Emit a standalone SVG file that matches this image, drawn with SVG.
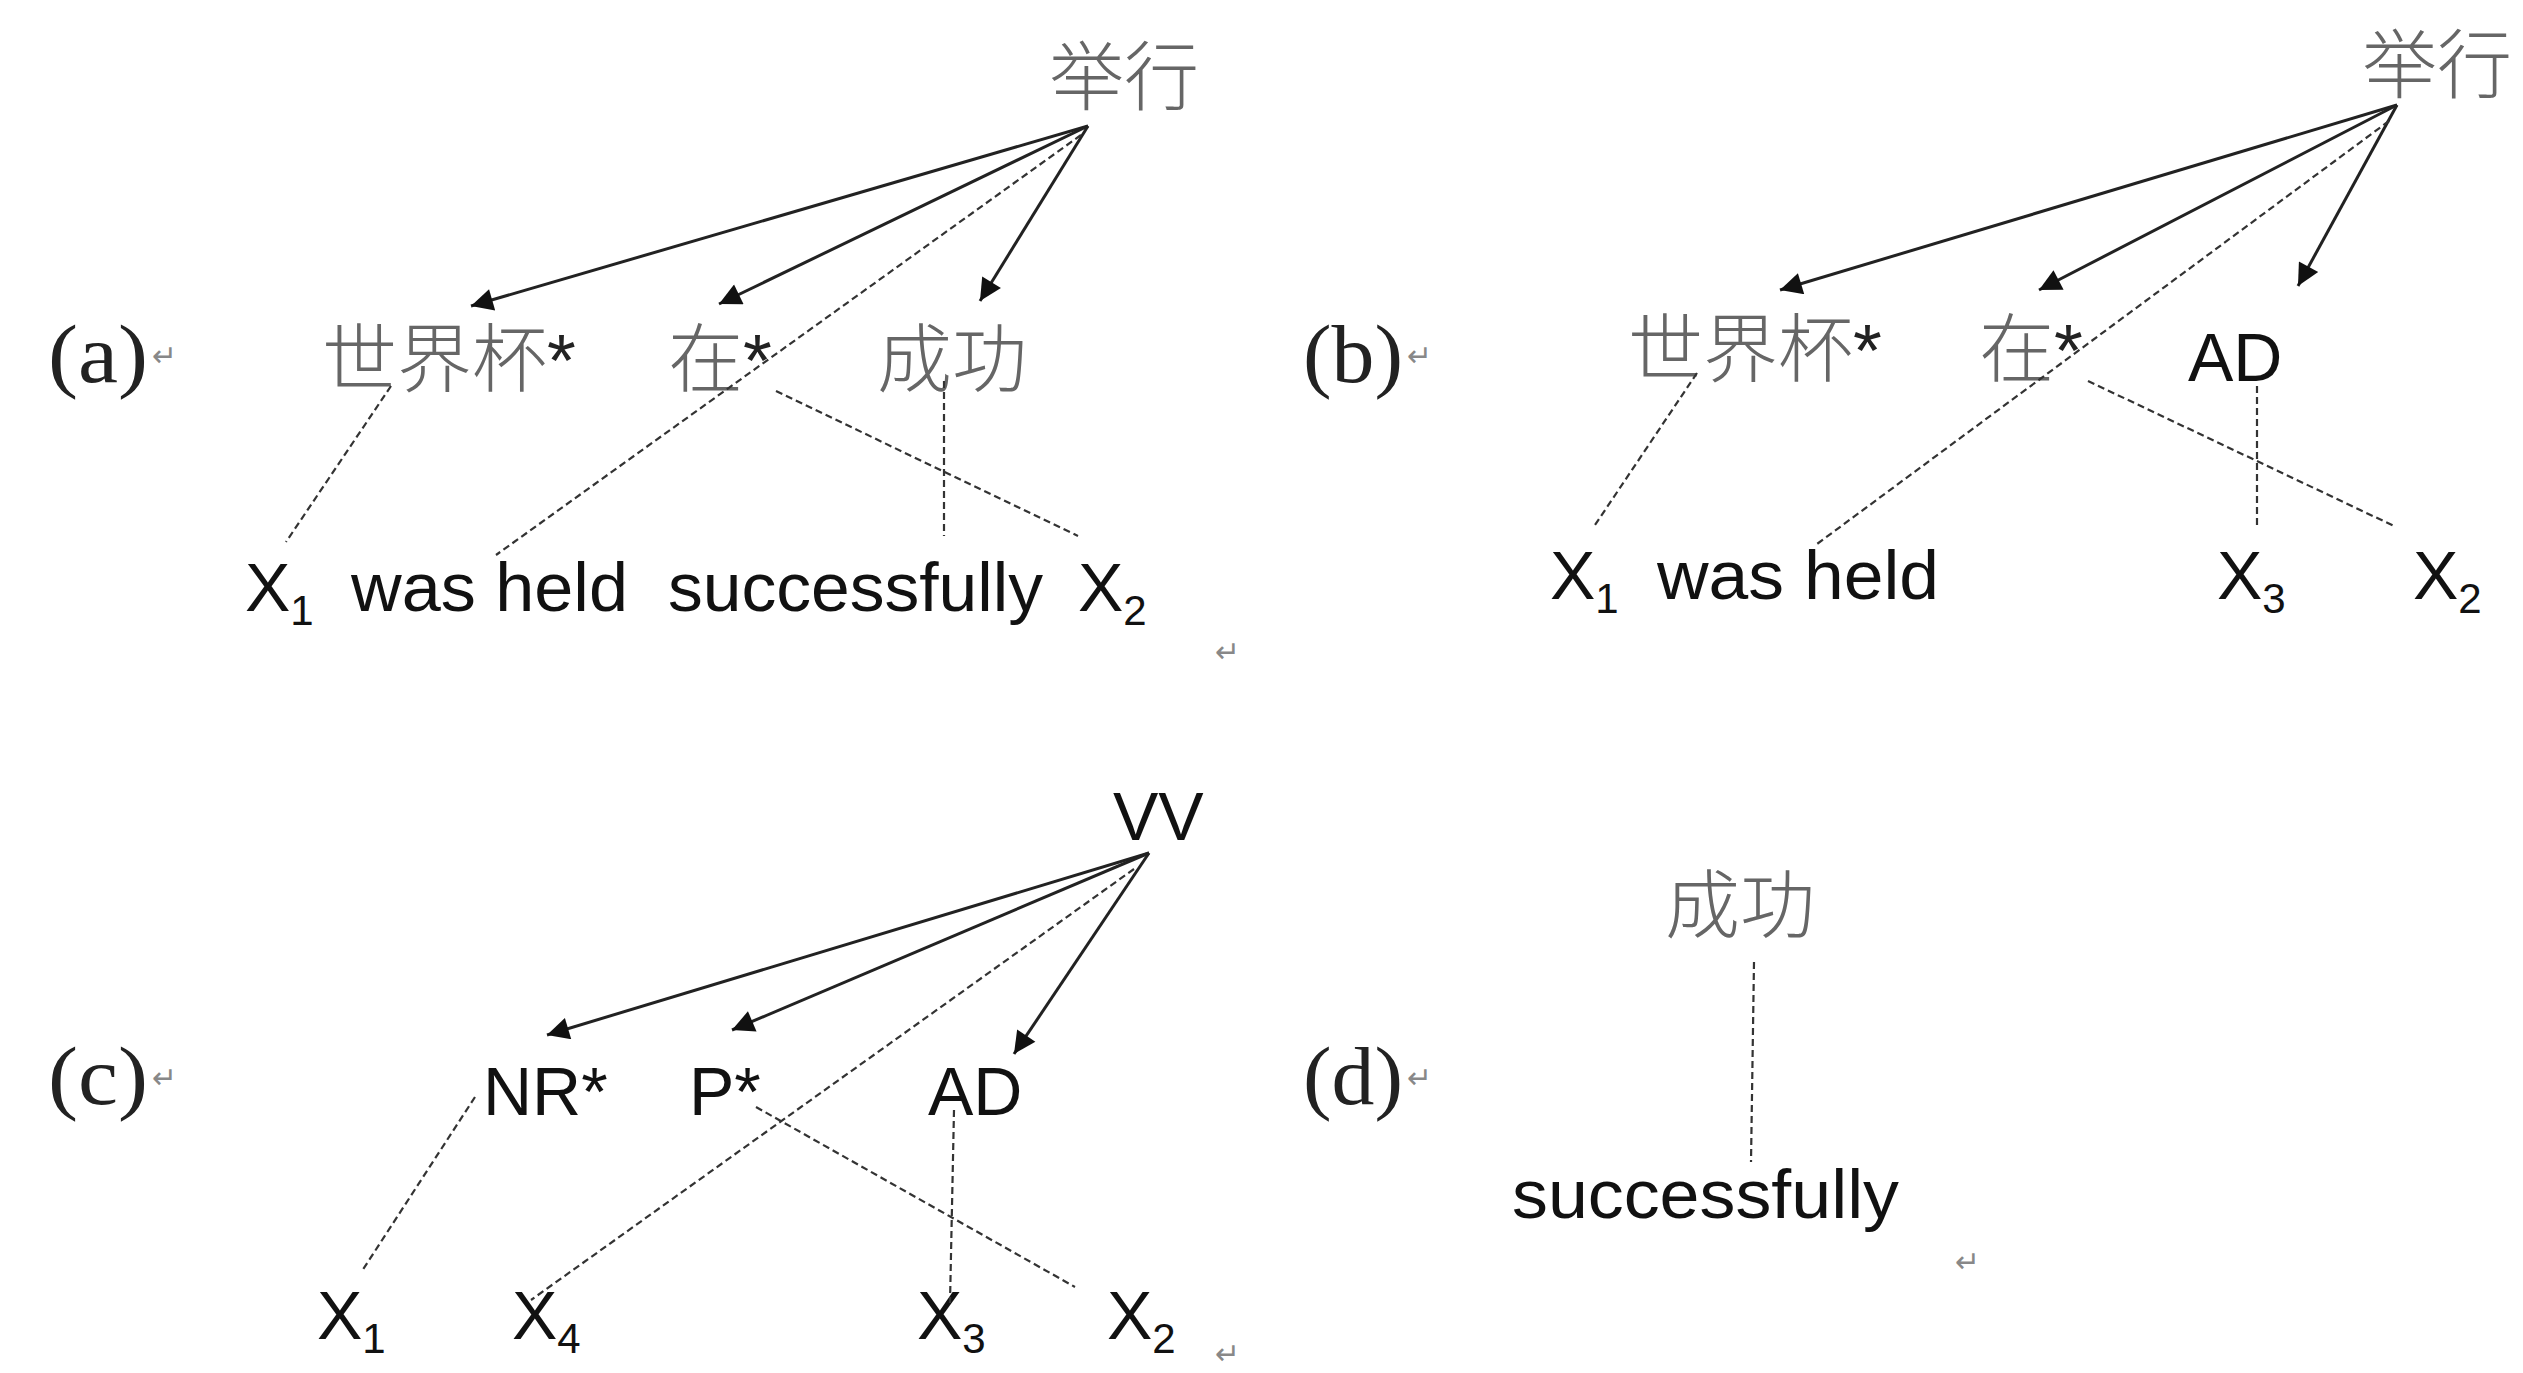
<svg xmlns="http://www.w3.org/2000/svg" width="2523" height="1373" viewBox="0 0 2523 1373">
<defs>
<marker id="ah" viewBox="0 0 10 10" refX="10" refY="5" markerWidth="28" markerHeight="22" markerUnits="userSpaceOnUse" orient="auto">
<path d="M0,0 L10,5 L0,10 z" fill="#111"/>
</marker>
</defs>
<style>
.lbl{font-family:"Liberation Serif","Times New Roman",serif;font-size:82px;fill:#222}
.ret{font-family:"DejaVu Sans",sans-serif;font-size:30px;fill:#888}
.cjk{font-family:"Noto Sans CJK SC","Noto Sans",sans-serif;font-size:75px;fill:#666;font-weight:300}
.st{font-family:"Liberation Sans",Arial,sans-serif;fill:#222}
.en{font-family:"Liberation Sans",Arial,sans-serif;font-size:68px;fill:#111}
.sub{font-size:42px}
.arr{stroke:#222;stroke-width:3;fill:none;marker-end:url(#ah)}
.dsh{stroke:#333;stroke-width:2.2;fill:none;stroke-dasharray:7 4}
</style>
<rect width="2523" height="1373" fill="#fff"/>

<g id="panel-labels">
<text class="lbl" x="48" y="382" textLength="100" lengthAdjust="spacingAndGlyphs">(a)</text><text class="ret" x="152" y="366">↵</text>
<text class="lbl" x="1303" y="382" textLength="100" lengthAdjust="spacingAndGlyphs">(b)</text><text class="ret" x="1407" y="366">↵</text>
<text class="lbl" x="48" y="1104" textLength="100" lengthAdjust="spacingAndGlyphs">(c)</text><text class="ret" x="152" y="1088">↵</text>
<text class="lbl" x="1303" y="1104" textLength="100" lengthAdjust="spacingAndGlyphs">(d)</text><text class="ret" x="1407" y="1088">↵</text>
<text class="ret" x="1215" y="662">↵</text>
<text class="ret" x="1215" y="1364">↵</text>
<text class="ret" x="1955" y="1272">↵</text>
</g>

<!-- Panel (a) -->
<g id="a-root"><text class="cjk" x="1049" y="104">举行</text></g>
<g id="a-shijiebei"><text class="cjk" x="322" y="386">世界杯<tspan class="st" font-size="74">*</tspan></text></g>
<g id="a-zai"><text class="cjk" x="668" y="386">在<tspan class="st" font-size="74">*</tspan></text></g>
<g id="a-chenggong"><text class="cjk" x="877" y="386">成功</text></g>
<g id="a-x1"><text class="en" x="245" y="611">X<tspan class="sub" dy="14">1</tspan></text></g>
<g id="a-washeld"><text class="en" x="351" y="611" textLength="277" lengthAdjust="spacingAndGlyphs">was held</text></g>
<g id="a-successfully"><text class="en" x="668" y="611" textLength="375" lengthAdjust="spacingAndGlyphs">successfully</text></g>
<g id="a-x2"><text class="en" x="1078" y="611">X<tspan class="sub" dy="14">2</tspan></text></g>

<!-- Panel (b) -->
<g id="b-root"><text class="cjk" x="2362" y="92">举行</text></g>
<g id="b-shijiebei"><text class="cjk" x="1628" y="376">世界杯<tspan class="st" font-size="74">*</tspan></text></g>
<g id="b-zai"><text class="cjk" x="1979" y="376">在<tspan class="st" font-size="74">*</tspan></text></g>
<g id="b-ad"><text class="en" x="2188" y="381">AD</text></g>
<g id="b-x1"><text class="en" x="1550" y="599">X<tspan class="sub" dy="14">1</tspan></text></g>
<g id="b-washeld"><text class="en" x="1657" y="599" textLength="282" lengthAdjust="spacingAndGlyphs">was held</text></g>
<g id="b-x3"><text class="en" x="2217" y="599">X<tspan class="sub" dy="14">3</tspan></text></g>
<g id="b-x2"><text class="en" x="2413" y="599">X<tspan class="sub" dy="14">2</tspan></text></g>

<!-- Panel (c) -->
<g id="c-vv"><text class="en" x="1113" y="840">VV</text></g>
<g id="c-nr"><text class="en" x="483" y="1115">NR*</text></g>
<g id="c-p"><text class="en" x="689" y="1115">P*</text></g>
<g id="c-ad"><text class="en" x="928" y="1115">AD</text></g>
<g id="c-x1"><text class="en" x="317" y="1339">X<tspan class="sub" dy="14">1</tspan></text></g>
<g id="c-x4"><text class="en" x="512" y="1339">X<tspan class="sub" dy="14">4</tspan></text></g>
<g id="c-x3"><text class="en" x="917" y="1339">X<tspan class="sub" dy="14">3</tspan></text></g>
<g id="c-x2"><text class="en" x="1107" y="1339">X<tspan class="sub" dy="14">2</tspan></text></g>

<!-- Panel (d) -->
<g id="d-chenggong"><text class="cjk" x="1665" y="932">成功</text></g>
<g id="d-successfully"><text class="en" x="1512" y="1218" textLength="387" lengthAdjust="spacingAndGlyphs">successfully</text></g>

<g id="connectors">
<!-- a -->
<line class="arr" x1="1088" y1="126" x2="471" y2="306"/>
<line class="arr" x1="1088" y1="126" x2="719" y2="304"/>
<line class="arr" x1="1088" y1="126" x2="980" y2="301"/>
<line class="dsh" x1="1081" y1="135" x2="496" y2="555"/>
<line class="dsh" x1="391" y1="386" x2="286" y2="542"/>
<line class="dsh" x1="776" y1="391" x2="1078" y2="536"/>
<line class="dsh" x1="944" y1="381" x2="944" y2="536"/>
<!-- b -->
<line class="arr" x1="2397" y1="105" x2="1780" y2="290"/>
<line class="arr" x1="2397" y1="105" x2="2039" y2="290"/>
<line class="arr" x1="2397" y1="105" x2="2298" y2="286"/>
<line class="dsh" x1="2389" y1="121" x2="1817" y2="544"/>
<line class="dsh" x1="1697" y1="373" x2="1593" y2="528"/>
<line class="dsh" x1="2088" y1="381" x2="2394" y2="526"/>
<line class="dsh" x1="2257" y1="386" x2="2257" y2="526"/>
<!-- c -->
<line class="arr" x1="1149" y1="853" x2="547" y2="1035"/>
<line class="arr" x1="1149" y1="853" x2="732" y2="1030"/>
<line class="arr" x1="1149" y1="853" x2="1014" y2="1054"/>
<line class="dsh" x1="1134" y1="869" x2="531" y2="1300"/>
<line class="dsh" x1="475" y1="1097" x2="362" y2="1271"/>
<line class="dsh" x1="756" y1="1107" x2="1075" y2="1287"/>
<line class="dsh" x1="954" y1="1110" x2="950" y2="1303"/>
<!-- d -->
<line class="dsh" x1="1754" y1="962" x2="1751" y2="1162"/>
</g>
</svg>
